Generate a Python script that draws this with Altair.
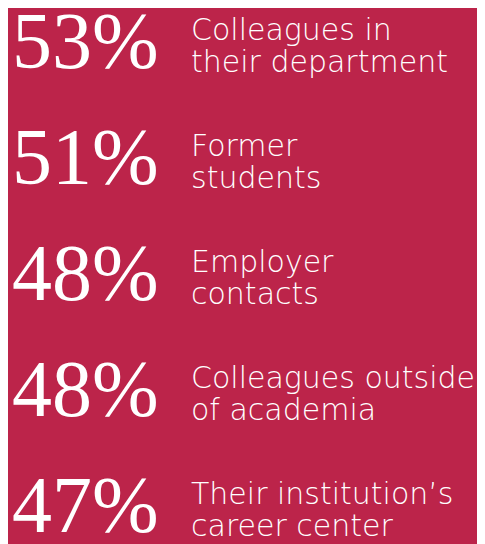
import altair as alt
import pandas as pd

percents = ["53%", "51%", "48%", "48%", "47%"]
labels = [
    "Colleagues in\ntheir department",
    "Former\nstudents",
    "Employer\ncontacts",
    "Colleagues outside\nof academia",
    "Their institution’s\ncareer center",
]
rows = [0, 1, 2, 3, 4]

df = pd.DataFrame({"row": rows, "pct": percents, "label": labels})

BG = "#BC244A"

yenc = alt.Y("row:Q", scale=alt.Scale(domain=[0, 4], range=[32, 496]), axis=None)

nums = alt.Chart(df).mark_text(
    align="left", baseline="alphabetic", font="Liberation Serif",
    fontSize=80, color="white", dy=28
).encode(x=alt.value(4), y=yenc, text="pct:N")

labs = alt.Chart(df).mark_text(
    align="left", baseline="alphabetic", font="DejaVu Sans", fontWeight=200,
    fontSize=30, color="white", lineBreak="\n", lineHeight=32
).encode(x=alt.value(183), y=yenc, text="label:N")

chart = alt.layer(nums, labs).properties(
    width=469, height=536, padding=0, autosize="none", background=BG
).configure_view(stroke=None)

chart.save("out.html", embed_options={"renderer": "svg", "actions": False})
